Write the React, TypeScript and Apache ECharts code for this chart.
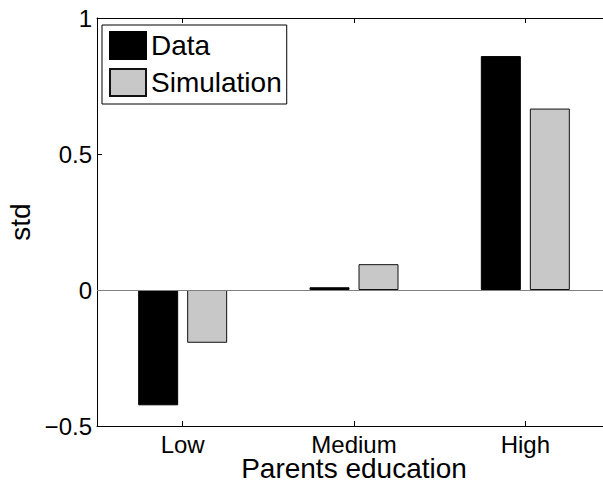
import React, { useEffect, useRef } from "react";
import * as echarts from "echarts";

const categories = ["Low", "Medium", "High"];
const dataValues = [-0.424, 0.01, 0.86];
const simulationValues = [-0.194, 0.095, 0.667];
const seriesNames = ["Data", "Simulation"];
const xTitle = "Parents education";
const yTitle = "std";

const FONT = "'Liberation Sans', Arial, Helvetica, sans-serif";

export default function App() {
  const ref = useRef<HTMLDivElement>(null);
  useEffect(() => {
    document.body.style.margin = "0";
    if (!ref.current) return;
    const chart = echarts.init(ref.current, undefined, { renderer: "svg" });
    chart.setOption({
      animation: false,
      backgroundColor: "#fff",
      textStyle: { fontFamily: FONT, color: "#000" },
      grid: {
        left: 97,
        right: 0,
        top: 18,
        bottom: 54,
        show: false,
        containLabel: false,
        outerBoundsMode: "none",
      },
      legend: {
        orient: "vertical",
        left: 102,
        top: 25,
        padding: [6, 5, 7, 7],
        itemGap: 8,
        itemWidth: 36,
        itemHeight: 27,
        icon: "rect",
        backgroundColor: "#fff",
        borderColor: "#000",
        borderWidth: 1,
        selectedMode: false,
        textStyle: { fontSize: 28, lineHeight: 27, color: "#000", fontFamily: FONT },
        data: seriesNames,
      },
      xAxis: [
        {
          type: "category",
          data: categories,
          position: "bottom",
          boundaryGap: true,
          axisLine: { show: true, onZero: false, lineStyle: { color: "#000", width: 1 } },
          axisTick: { show: true, inside: true, alignWithLabel: true, length: 5, lineStyle: { color: "#000" } },
          axisLabel: { fontSize: 24, lineHeight: 22, color: "#000", margin: 7, fontFamily: FONT },
          splitLine: { show: false },
          name: xTitle,
          nameLocation: "middle",
          nameGap: 31,
          nameMoveOverlap: false,
          nameTextStyle: { fontSize: 28, lineHeight: 22, color: "#000", fontFamily: FONT },
        },
        {
          type: "category",
          data: categories,
          position: "top",
          boundaryGap: true,
          axisLine: { show: true, onZero: false, lineStyle: { color: "#000", width: 1 } },
          axisTick: { show: true, inside: true, alignWithLabel: true, length: 5, lineStyle: { color: "#000" } },
          axisLabel: { show: false },
          splitLine: { show: false },
        },
      ],
      yAxis: {
        type: "value",
        min: -0.5,
        max: 1,
        interval: 0.5,
        axisLine: { show: true, lineStyle: { color: "#000", width: 1 } },
        axisTick: { show: true, inside: true, length: 5, lineStyle: { color: "#000" } },
        axisLabel: {
          fontSize: 24,
          color: "#000",
          margin: 5,
          fontFamily: FONT,
          formatter: (v: number) => (v < 0 ? "\u2212" + String(Math.abs(v)) : String(v)),
        },
        splitLine: { show: false },
        name: yTitle,
        nameLocation: "middle",
        nameRotate: 90,
        nameGap: 63,
        nameMoveOverlap: false,
        nameTextStyle: { fontSize: 28, color: "#000", fontFamily: FONT },
      },
      series: [
        {
          name: seriesNames[0],
          type: "bar",
          xAxisIndex: 0,
          data: dataValues,
          barWidth: 40,
          barGap: "22.5%",
          itemStyle: { color: "#000", borderColor: "#000", borderWidth: 1 },
          markLine: {
            silent: true,
            symbol: ["none", "none"],
            label: { show: false },
            lineStyle: { color: "#808080", width: 1, type: "solid" },
            data: [{ yAxis: 0 }],
          },
        },
        {
          name: seriesNames[1],
          type: "bar",
          xAxisIndex: 0,
          data: simulationValues,
          barWidth: 40,
          barGap: "22.5%",
          itemStyle: { color: "#c8c8c8", borderColor: "#111", borderWidth: 1 },
        },
      ],
    });
    return () => chart.dispose();
  }, []);
  return (
    <div style={{ width: 603, height: 480, overflow: "hidden", position: "relative" }}>
      <div ref={ref} style={{ width: 611, height: 480 }} />
    </div>
  );
}
